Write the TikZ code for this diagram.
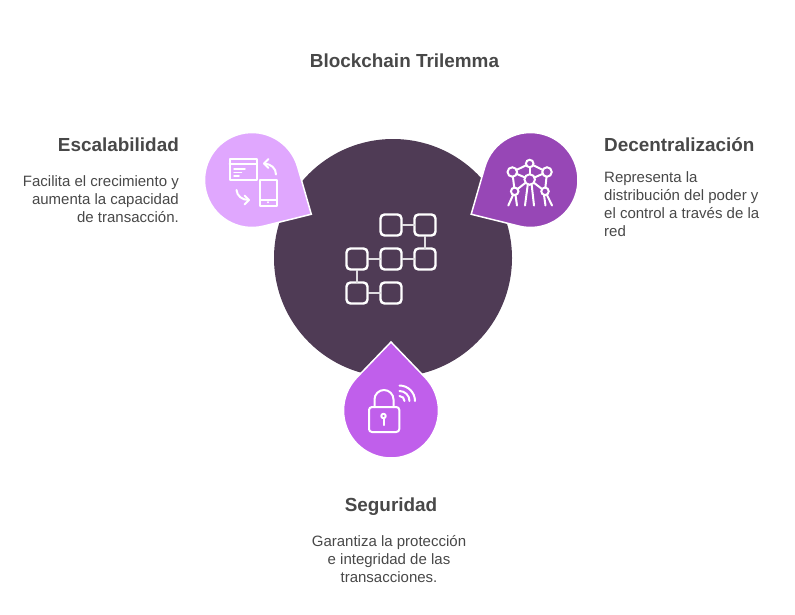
\documentclass[tikz,border=0pt]{standalone}
\usepackage{fontspec}
\setmainfont{Liberation Sans}
\usetikzlibrary{positioning,calc}
\definecolor{hubdark}{HTML}{4F3B55}
\definecolor{droplight}{HTML}{E0A7FE}
\definecolor{dropdeep}{HTML}{9747B6}
\definecolor{dropmid}{HTML}{C05FEB}
\definecolor{inktext}{HTML}{484848}
\tikzset{
    dropline/.style={draw=white,line width=1.5pt,line join=miter},
    iconline/.style={draw=white,line width=2pt,line cap=round,line join=round},
    blockbox/.style={draw=white,line width=2.4pt,rounded corners=4pt,minimum size=21pt,inner sep=0pt,outer sep=0pt},
    blocklink/.style={draw=white!82!hubdark,line width=2pt},
    atomball/.style={circle,draw=white,line width=2pt,inner sep=0pt,outer sep=0pt},
    headtext/.style={font=\fontsize{18.9}{22}\selectfont\bfseries,text=inktext,inner sep=0pt},
    bodytext/.style={font=\fontsize{15}{18}\selectfont,text=inktext,inner sep=0pt},
}
% teardrop: centre, direction of the tip, colour
\newcommand{\dropfill}[3]{
    \filldraw[dropline,fill=#3] ($(#1)+(#2:68.5)$) -- ($(#1)+(#2+46:47.5)$)
        arc[start angle=#2+46,delta angle=268,radius=47.5] -- cycle;
}
\begin{document}
\begin{tikzpicture}[x=1pt,y=-1pt,node distance=13pt]
    \useasboundingbox (0,0) rectangle (795,614);
    \node[headtext] (title) at (404.5,61) {Blockchain Trilemma};
    % big circle
    \fill[hubdark] (393,258) circle (119);
    % chain of blocks
    \node[blockbox] (b21) at (357,259) {};
    \node[blockbox] (b22) [right=of b21] {};
    \node[blockbox] (b23) [right=of b22] {};
    \node[blockbox] (b12) [above=of b22] {};
    \node[blockbox] (b13) [right=of b12] {};
    \node[blockbox] (b31) [below=of b21] {};
    \node[blockbox] (b32) [right=of b31] {};
    \path[blocklink]
    (b12) edge (b13)
    (b13) edge (b23)
    (b21) edge (b22)
    (b22) edge (b23)
    (b21) edge (b31)
    (b31) edge (b32);
    % teardrops
    \coordinate (cleft) at (252,180);
    \coordinate (cright) at (530.5,180);
    \coordinate (cbottom) at (391,410.5);
    \dropfill{cleft}{30}{droplight}
    \dropfill{cright}{150}{dropdeep}
    \dropfill{cbottom}{270}{dropmid}
    % window and phone
    \draw[iconline] (229.5,159) rectangle (256.5,179.5);
    \draw[iconline] (229.5,164) -- (256.5,164);
    \draw[iconline,line width=1.5pt] (234,169) -- (245,169) (234,172.5) -- (241.5,172.5);
    \draw[iconline,line width=1.5pt] (234,176) -- (239,176);
    \draw[iconline] (260,179.5) rectangle (276.5,205.5);
    \draw[iconline] (260,199.5) -- (276.5,199.5);
    \fill[white] (268,202.3) circle (1.1);
    \draw[iconline] (276,174.5) .. controls (276,168) and (271,164) .. (264,163.5);
    \draw[iconline] (268.5,159) -- (264,163.5) -- (268.5,168);
    \draw[iconline] (236.5,190) .. controls (237,196) and (242,200) .. (249,200);
    \draw[iconline] (244.5,195.5) -- (249,200) -- (244.5,204.5);
    % atom
    \node[atomball,minimum size=7.5pt] (top) at (529.7,163.5) {};
    \node[atomball,minimum size=9.5pt] (lft) at (512.3,172) {};
    \node[atomball,minimum size=9.5pt] (rgt) at (547,172) {};
    \node[atomball,minimum size=10.5pt] (mid) at (529.7,179.5) {};
    \node[atomball,minimum size=7.5pt] (lowl) at (514.7,191.3) {};
    \node[atomball,minimum size=7.5pt] (lowr) at (545,191.3) {};
    \path[iconline]
    (top) edge (lft)
    (top) edge (rgt)
    (top) edge (mid)
    (lft) edge (mid)
    (rgt) edge (mid)
    (lft) edge (lowl)
    (rgt) edge (lowr)
    (mid) edge (lowl)
    (mid) edge (lowr);
    \draw[iconline] (513,195) -- (508.3,205.5) (515.5,195) -- (517,205.5);
    \draw[iconline] (527.7,185) -- (525,205.5) (531.7,185) -- (534,205.5);
    \draw[iconline] (544,195) -- (545.5,205.5) (547,195) -- (552,205.5);
    % lock
    \draw[iconline,rounded corners=3pt] (369,407) rectangle (399.3,432);
    \draw[iconline] (374.5,407) -- (374.5,399.5) arc[start angle=180,end angle=360,radius=9.5] -- (393.5,407);
    \draw[iconline] (383.5,416) circle (2.2);
    \draw[iconline] (383.5,418.5) -- (383.5,425);
    \draw[iconline] (399.5,396) arc[start angle=270,end angle=360,radius=5];
    \draw[iconline] (399.5,391) arc[start angle=270,end angle=360,radius=10];
    \draw[iconline] (399.5,385.5) arc[start angle=270,end angle=360,radius=15.5];
    % texts
    \node[headtext,anchor=east] (esc) at (179,145) {Escalabilidad};
    \node[bodytext,align=right,anchor=north east] (escbody) at (179,175.5) {Facilita el crecimiento y\\aumenta la capacidad\\de transacción.};
    \node[headtext,anchor=west] (dec) at (604,145) {Decentralización};
    \node[bodytext,align=left,anchor=north west] (decbody) at (604,171.5) {Representa la\\distribución del poder y\\el control a través de la\\red};
    \node[headtext] (seg) at (391,506.5) {Seguridad};
    \node[bodytext,align=center,anchor=north] (segbody) at (389,535.5) {Garantiza la protección\\e integridad de las\\transacciones.};
\end{tikzpicture}
\end{document}
